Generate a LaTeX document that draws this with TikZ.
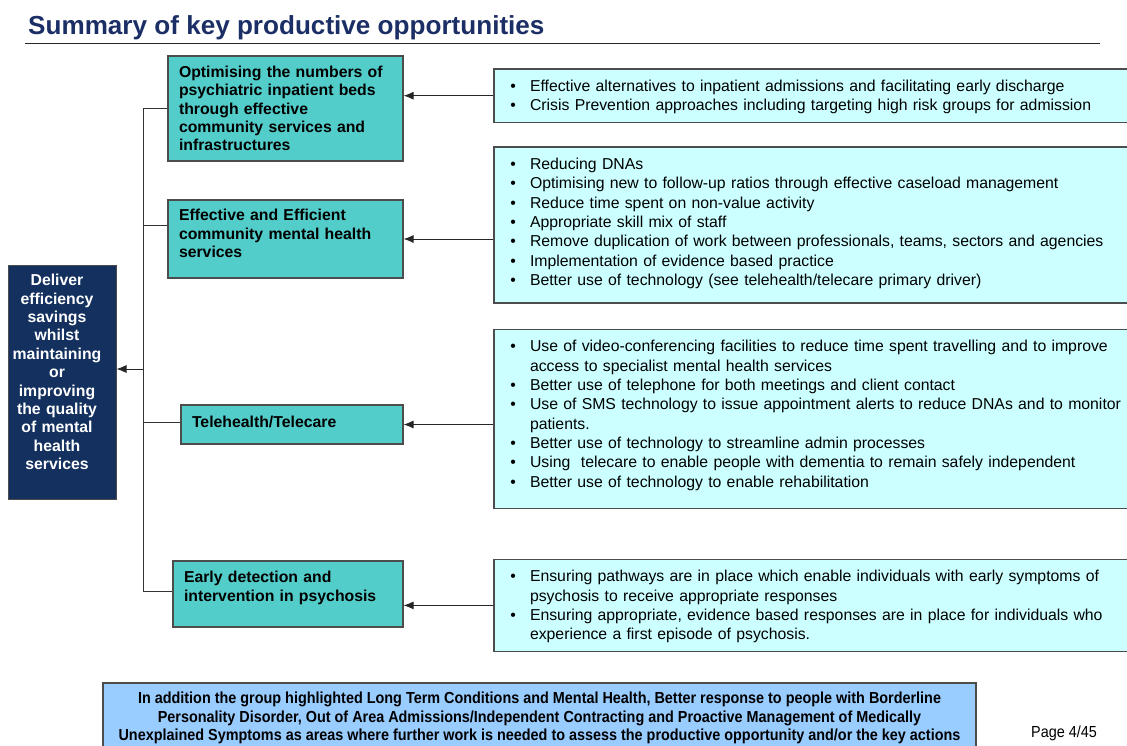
\documentclass[tikz,border=0pt]{standalone}
\usepackage{fontspec}
\setmainfont{Liberation Sans}
\newfontfamily\narrowfont{Liberation Sans}[FakeStretch=0.9]
\usepackage{enumitem}
\usetikzlibrary{arrows.meta}
\definecolor{titleblue}{HTML}{1B2F66}
\definecolor{navybox}{HTML}{13305F}
\definecolor{tealbox}{HTML}{52CDCA}
\definecolor{paleblue}{HTML}{CCFFFF}
\definecolor{noteblue}{HTML}{99CCFF}
\newcommand{\bodysize}{\fontsize{15.8}{19.3}\selectfont}
\newcommand{\boldsize}{\fontsize{15.8}{18.4}\selectfont\bfseries}
\newenvironment{points}{\begin{itemize}[leftmargin=30pt,labelsep=14pt,label=\textbullet,itemsep=0pt,parsep=0pt,topsep=0pt,partopsep=0pt]}{\end{itemize}}
\begin{document}
\begin{tikzpicture}[x=1pt,y=-1pt]
    \tikzstyle{goal} = [draw=gray!60!black, fill=navybox, line width=1pt, text=white, font=\boldsize, text width=100, align=center, minimum width=108]
    \tikzstyle{driver} = [draw=gray!60!black, fill=tealbox, line width=1.2pt, font=\boldsize, align=left, inner xsep=11]
    \tikzstyle{action} = [draw=gray!60!black, fill=paleblue, line width=1.2pt, font=\bodysize, text width=628, align=left, inner xsep=6, minimum width=640]
    \tikzstyle{note} = [draw=gray!60!black, fill=noteblue, line width=1.2pt, font=\narrowfont\fontsize{16}{18.5}\selectfont\bfseries, align=center, minimum width=873, minimum height=70]
    \tikzstyle{la} = [-{Latex[length=10pt,width=8pt]}, line width=0.9pt, draw=black!85]
    \tikzstyle{ln} = [line width=0.9pt, draw=black!80]
    \useasboundingbox (0,0) rectangle (1127,745);
    \clip (0,0) rectangle (1127,745);
    \node[anchor=base west, inner sep=0, text=titleblue, font=\fontsize{26.1}{30}\selectfont\bfseries] (title) at (28,34) {Summary of key productive opportunities};
    \draw[gray!30!black, line width=1pt] (25,43) -- (1100,43);
    % goal and primary drivers
    \node[goal, minimum height=234] (goal) at (62,382) {\leftskip=0pt plus 1fil\rightskip=10pt plus 1fil\parfillskip=0pt\relax Deliver\\efficiency\\savings\\whilst\\maintaining\\or\\improving\\the quality\\of mental\\health\\services\par\kern20pt};
    \node[driver, text width=213, minimum height=105] (beds) at (285.5,108.5) {Optimising the numbers of\\psychiatric inpatient beds\\through effective\\community services and\\infrastructures};
    \node[driver, text width=213, minimum height=78] (cmhs) at (285.5,239) {Effective and Efficient\\community mental health\\services\par\kern11pt};
    \node[driver, text width=200, minimum height=39] (tele) at (292,424.5) {Telehealth/Telecare\par\kern6pt};
    \node[driver, text width=208, minimum height=66] (early) at (288,594) {Early detection and\\intervention in psychosis\par\kern12pt};
    % secondary drivers
    \node[action, minimum height=52] (bedsact) at (814,95.7) {\begin{points}
        \item Effective alternatives to inpatient admissions and facilitating early discharge
        \item Crisis Prevention approaches including targeting high risk groups for admission
    \end{points}\kern5pt};
    \node[action, minimum height=154] (cmhsact) at (814,225) {\begin{points}
        \item Reducing DNAs
        \item Optimising new to follow-up ratios through effective caseload management
        \item Reduce time spent on non-value activity
        \item Appropriate skill mix of staff
        \item Remove duplication of work between professionals, teams, sectors and agencies
        \item Implementation of evidence based practice
        \item Better use of technology (see telehealth/telecare primary driver)
    \end{points}\kern11pt};
    \node[action, minimum height=176] (teleact) at (814,419) {\begin{points}
        \item Use of video-conferencing facilities to reduce time spent travelling and to improve\\access to specialist mental health services
        \item Better use of telephone for both meetings and client contact
        \item Use of SMS technology to issue appointment alerts to reduce DNAs and to monitor\\patients.
        \item Better use of technology to streamline admin processes
        \item Using\ \ telecare to enable people with dementia to remain safely independent
        \item Better use of technology to enable rehabilitation
    \end{points}\kern15pt};
    \node[action, minimum height=89] (earlyact) at (814,605.4) {\begin{points}
        \item Ensuring pathways are in place which enable individuals with early symptoms of\\psychosis to receive appropriate responses
        \item Ensuring appropriate, evidence based responses are in place for individuals who\\experience a first episode of psychosis.
    \end{points}\kern5pt};
    \node[note] (extra) at (539.5,718) {In addition the group highlighted Long Term Conditions and Mental Health, Better response to people with Borderline\\Personality Disorder, Out of Area Admissions/Independent Contracting and Proactive Management of Medically\\Unexplained Symptoms as areas where further work is needed to assess the productive opportunity and/or the key actions};
    \node[font=\narrowfont\fontsize{16}{18}\selectfont] (page) at (1064,733) {Page 4/45};
    % tree lines
    \coordinate (hub) at (143,369);
    \draw[ln] (beds.west) -| ([yshift=3pt]early.west -| hub) -- ([yshift=3pt]early.west);
    \draw[ln] ([yshift=14pt]cmhs.west) -- ([yshift=14pt]cmhs.west -| hub);
    \draw[ln] ([yshift=2.5pt]tele.west) -- ([yshift=2.5pt]tele.west -| hub);
    \draw[la] (hub) -- (hub -| goal.east);
    \draw[la] (bedsact.west) -- (beds.east |- bedsact.west);
    \draw[la] (cmhsact.west |- cmhs.east) -- (cmhs.east);
    \draw[la] (teleact.west |- tele.east) -- (tele.east);
    \draw[la] (earlyact.west) -- (early.east |- earlyact.west);
\end{tikzpicture}
\end{document}
